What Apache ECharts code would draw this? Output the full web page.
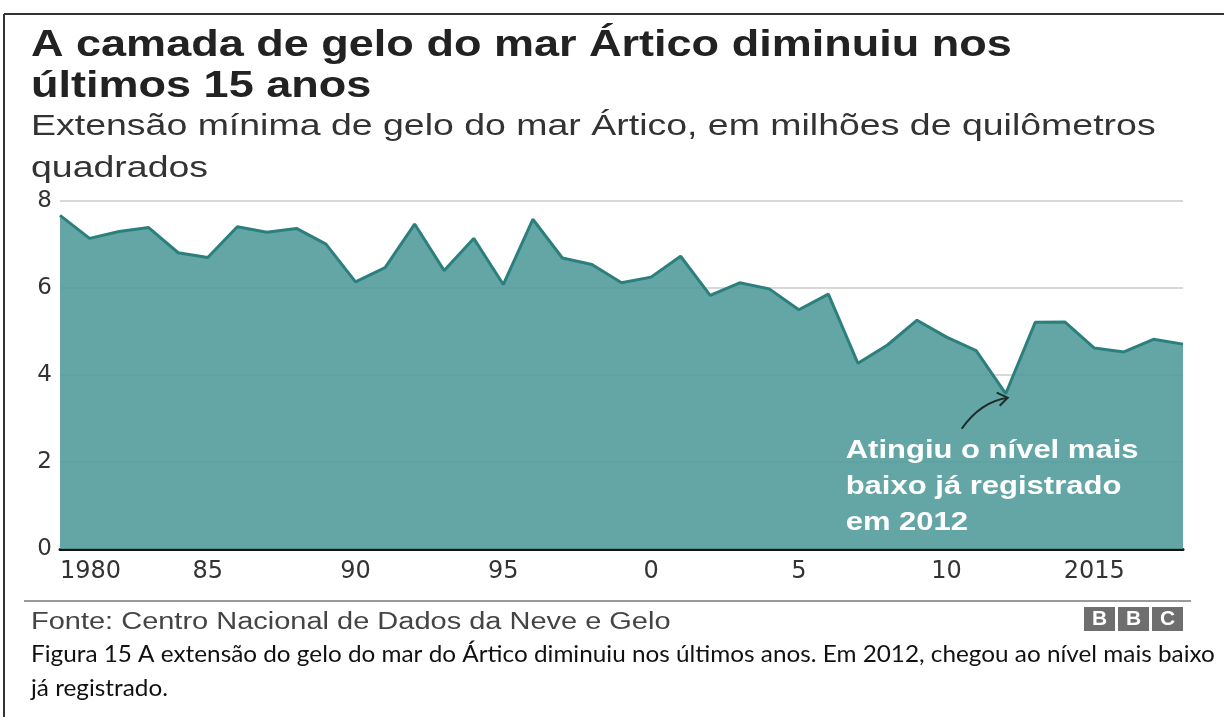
<!DOCTYPE html>
<html>
<head>
<meta charset="utf-8">
<script src="https://cdn.jsdelivr.net/npm/echarts@6/dist/echarts.min.js"></script>
<style>
html,body{margin:0;padding:0;background:#fff;}
#chart{width:1224px;height:717px;}
</style>
</head>
<body>
<div id="chart"></div>
<script>
// ---- data ----
const years = [1980,1981,1982,1983,1984,1985,1986,1987,1988,1989,1990,1991,1992,1993,1994,1995,1996,1997,1998,1999,2000,2001,2002,2003,2004,2005,2006,2007,2008,2009,2010,2011,2012,2013,2014,2015,2016,2017,2018];
const extent = [7.67,7.14,7.30,7.39,6.81,6.70,7.41,7.28,7.37,7.01,6.14,6.47,7.47,6.40,7.14,6.08,7.58,6.69,6.54,6.12,6.25,6.73,5.83,6.12,5.98,5.50,5.86,4.27,4.69,5.26,4.87,4.56,3.57,5.21,5.22,4.62,4.53,4.82,4.71];
const xTickValues = [1980,1985,1990,1995,2000,2005,2010,2015];
const xTickLabels = ['1980','85','90','95','0','5','10','2015'];
const yTicks = [0,2,4,6,8];
const titleLines = ['A camada de gelo do mar Ártico diminuiu nos', 'últimos 15 anos'];
const subtitleLines = ['Extensão mínima de gelo do mar Ártico, em milhões de quilômetros', 'quadrados'];
const annotationLines = ['Atingiu o nível mais', 'baixo já registrado', 'em 2012'];
const annotationYear = 2012;
const sourceText = 'Fonte: Centro Nacional de Dados da Neve e Gelo';
const captionLines = ['Figura 15 A extensão do gelo do mar do Ártico diminuiu nos últimos anos. Em 2012, chegou ao nível mais baixo', 'já registrado.'];
const logoLetters = ['B', 'B', 'C'];

const seriesData = years.map((y, i) => [y, extent[i]]);
const FONT = '"Liberation Sans", Arial, Helvetica, sans-serif';
const AXFONT = '"DejaVu Sans", "Liberation Sans", sans-serif';

const chart = echarts.init(document.getElementById('chart'), null, {renderer: 'canvas'});

const option = {
  backgroundColor: '#fff',
  animation: false,
  grid: {left: 60, right: 41, top: 201, height: 348, containLabel: false},
  xAxis: {
    type: 'value', min: 1980, max: 2018, interval: 5,
    axisLine: {show: true, onZero: false, lineStyle: {color: '#111', width: 3}},
    axisTick: {show: false},
    splitLine: {show: false},
    axisLabel: {
      color: '#333', fontFamily: AXFONT, fontSize: 24, margin: 11,
      alignMinLabel: 'left',
      formatter: v => { const k = xTickValues.indexOf(v); return k >= 0 ? xTickLabels[k] : ''; }
    }
  },
  yAxis: {
    type: 'value', min: yTicks[0], max: yTicks[yTicks.length - 1], interval: 2,
    axisLine: {show: false}, axisTick: {show: false},
    splitLine: {show: true, lineStyle: {color: '#d8d8d8', width: 2}},
    axisLabel: {color: '#333', fontFamily: AXFONT, fontSize: 23, margin: 8}
  },
  series: [{
    type: 'line', data: seriesData, symbol: 'none', z: 1,
    lineStyle: {color: '#2b807e', width: 3},
    areaStyle: {color: '#529c9b', opacity: 0.9, origin: 'start'}
  }]
};
chart.setOption(option);

function txt(lines, x, yFirst, lineH, font, fill, sx, z) {
  return lines.map((t, i) => ({
    type: 'text', x: x, y: yFirst + i * lineH, scaleX: sx, z: z || 5,
    style: {text: t, font: font, fill: fill, align: 'left', verticalAlign: 'middle'}
  }));
}

// annotation anchored to the 2012 data point
const idx = years.indexOf(annotationYear);
const p = chart.convertToPixel({gridIndex: 0}, [annotationYear, extent[idx]]);
const tipX = p[0] + 2, tipY = p[1] + 4;
const startX = p[0] - 44, startY = p[1] + 35;

let graphics = [
  // outer frame (top and left edges)
  {type: 'line', shape: {x1: 4, y1: 14, x2: 1224, y2: 14}, style: {stroke: '#333', lineWidth: 2}},
  {type: 'line', shape: {x1: 4, y1: 14, x2: 4, y2: 717}, style: {stroke: '#333', lineWidth: 2}},
  // separator under axis labels
  {type: 'line', shape: {x1: 24, y1: 601, x2: 1191, y2: 601}, style: {stroke: '#9a9a9a', lineWidth: 2}},
  // arrow
  {type: 'bezierCurve', shape: {x1: startX, y1: startY, x2: tipX, y2: tipY, cpx1: p[0] - 25, cpy1: p[1] + 8}, style: {stroke: '#1e2b2b', lineWidth: 2, fill: null}, z: 10},
  {type: 'polyline', shape: {points: [[tipX - 11, tipY - 5], [tipX, tipY], [tipX - 8, tipY + 8]]}, style: {stroke: '#1e2b2b', lineWidth: 2, fill: null}, z: 10}
];
graphics = graphics
  .concat(txt(titleLines, 31, 46, 41, 'bold 37px ' + FONT, '#222', 1.217))
  .concat(txt(subtitleLines, 31, 127, 42, '30px ' + FONT, '#333', 1.249))
  .concat(txt([sourceText], 31, 623, 24, '23px ' + FONT, '#444', 1.26))
  .concat(txt(captionLines, 31, 655, 34, '23px Lato, "Open Sans", sans-serif', '#111', 1.057))
  .concat(txt(annotationLines, p[0] - 160, p[1] + 57, 36, 'bold 25px ' + FONT, '#fff', 1.24, 10));

// BBC logo blocks
logoLetters.forEach((ch, i) => {
  const bx = 1084 + i * 34;
  graphics.push({type: 'rect', shape: {x: bx, y: 607, width: 31, height: 24}, style: {fill: '#6e6e6e'}});
  graphics.push({type: 'text', x: bx + 15.5, y: 619.5, style: {text: ch, fill: '#fff', font: 'bold 21px ' + FONT, align: 'center', verticalAlign: 'middle'}});
});
chart.setOption({graphic: graphics});
</script>
</body>
</html>
